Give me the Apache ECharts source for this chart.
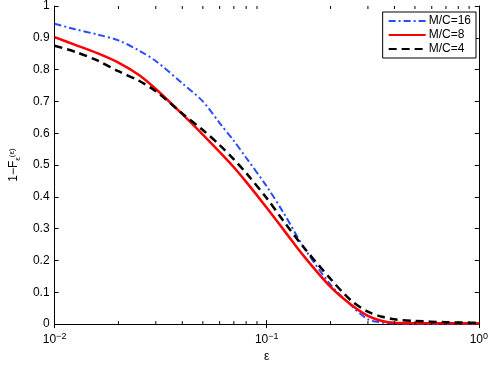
<!DOCTYPE html>
<html>
<head>
<meta charset="utf-8">
<script src="https://cdn.jsdelivr.net/npm/echarts@6/dist/echarts.min.js"></script>
<style>html,body{margin:0;padding:0;background:#fff;}#c{width:491px;height:368px;}</style>
</head>
<body>
<div id="c"></div>
<script>
const eps = [0.01, 0.0125, 0.016, 0.02, 0.025, 0.03, 0.04, 0.05, 0.06, 0.07, 0.08, 0.1, 0.12, 0.15, 0.2, 0.25, 0.3, 0.35, 0.4, 0.5, 0.7, 1];
const mc16 = [0.944, 0.927, 0.910, 0.892, 0.860, 0.827, 0.757, 0.700, 0.632, 0.576, 0.523, 0.433, 0.350, 0.240, 0.124, 0.059, 0.015, 0.005, 0.002, 0.001, 0.001, 0.001];
const mc8  = [0.902, 0.878, 0.851, 0.822, 0.783, 0.739, 0.660, 0.596, 0.541, 0.493, 0.447, 0.366, 0.297, 0.213, 0.117, 0.061, 0.026, 0.010, 0.004, 0.003, 0.003, 0.003];
const mc4  = [0.875, 0.856, 0.828, 0.795, 0.765, 0.732, 0.662, 0.610, 0.563, 0.518, 0.475, 0.396, 0.324, 0.240, 0.142, 0.074, 0.039, 0.023, 0.015, 0.010, 0.006, 0.004];
const seriesNames = ['M/C=16', 'M/C=8', 'M/C=4'];
const minorTicks = [0.02,0.03,0.04,0.05,0.06,0.07,0.08,0.09,0.2,0.3,0.4,0.5,0.6,0.7,0.8,0.9];

const font = 'Liberation Sans, Arial, sans-serif';
const pair = (ys) => eps.map((x, i) => [x, ys[i]]);

const chart = echarts.init(document.getElementById('c'));
chart.setOption({
  animation: false,
  backgroundColor: '#fff',
  grid: {left: 47, right: 10, top: 6, bottom: 39, show: false},
  legend: {
    orient: 'vertical', right: 15, top: 12,
    data: seriesNames,
    backgroundColor: '#fff', borderColor: '#000', borderWidth: 1, borderRadius: 0,
    padding: [3, 5, 3, 5], itemWidth: 37, itemHeight: 12, itemGap: 2,
    itemStyle: {opacity: 0},
    textStyle: {fontFamily: font, fontSize: 12, color: '#000', padding: [0, 0, 0, -2]}
  },
  xAxis: [{
    type: 'log', logBase: 10, min: 0.01, max: 1,
    name: 'ε', nameLocation: 'middle', nameGap: 24,
    nameTextStyle: {fontFamily: font, fontSize: 12, color: '#000'},
    axisLine: {show: true, lineStyle: {color: '#000', width: 1}},
    axisTick: {show: true, inside: true, length: 4, lineStyle: {color: '#000'}},
    splitLine: {show: false},
    axisLabel: {
      fontFamily: font, fontSize: 12, color: '#000', margin: 8,
      formatter: v => '10{sup|' + String(Math.round(Math.log10(v))).replace('-', '−') + '}',
      rich: {sup: {fontSize: 9, fontFamily: font, color: '#000', verticalAlign: 'top', padding: [0, 0, 7, 0]}}
    }
  }, {
    type: 'log', logBase: 10, min: 0.01, max: 1, position: 'top',
    axisLine: {show: true, lineStyle: {color: '#000', width: 1}},
    axisTick: {show: true, inside: true, length: 4, lineStyle: {color: '#000'}},
    axisLabel: {show: false}, splitLine: {show: false}
  }],
  yAxis: [{
    type: 'value', min: 0, max: 1, interval: 0.1,
    name: '1−F{sub|ε}{sm|(ε)}', nameLocation: 'middle', nameGap: 32, nameRotate: 90,
    nameTextStyle: {fontFamily: font, fontSize: 12, color: '#000',
      rich: {sub: {fontSize: 8, fontFamily: font, color: '#000', padding: [8, 0, 0, 0]},
             sm: {fontSize: 8, fontFamily: font, color: '#000', padding: [0, 0, 4, 0]}}},
    axisLine: {show: true, lineStyle: {color: '#000', width: 1}},
    axisTick: {show: true, inside: true, length: 4, lineStyle: {color: '#000'}},
    splitLine: {show: false},
    axisLabel: {fontFamily: font, fontSize: 12, color: '#000', margin: 5,
      formatter: v => (Math.round(v * 10) / 10).toString()}
  }, {
    type: 'value', min: 0, max: 1, interval: 0.1, position: 'right',
    axisLine: {show: true, lineStyle: {color: '#000', width: 1}},
    axisTick: {show: true, inside: true, length: 4, lineStyle: {color: '#000'}},
    axisLabel: {show: false}, splitLine: {show: false}
  }],
  series: [
    {
      name: seriesNames[0], type: 'line', data: pair(mc16), showSymbol: false, symbol: 'none',
      smooth: 0.3,
      color: '#2a4cff',
      lineStyle: {color: '#2a4cff', width: 2, type: [7, 3, 2, 3]}, z: 3
    },
    {
      name: seriesNames[1], type: 'line', data: pair(mc8), showSymbol: false, symbol: 'none',
      smooth: 0.3,
      color: '#ff0000',
      lineStyle: {color: '#ff0000', width: 2.5, type: 'solid'}, z: 4
    },
    {
      name: seriesNames[2], type: 'line', data: pair(mc4), showSymbol: false, symbol: 'none',
      smooth: 0.3,
      color: '#000000',
      lineStyle: {color: '#000000', width: 2.5, type: [8, 5]}, z: 5
    },
    {
      type: 'custom', silent: true, z: 6,
      data: minorTicks.map(v => [v, 0]),
      renderItem: (params, api) => {
        const b = api.coord([api.value(0), 0]);
        const t = api.coord([api.value(0), 1]);
        const st = {stroke: '#000', lineWidth: 1};
        return {type: 'group', children: [
          {type: 'line', shape: {x1: b[0], y1: b[1], x2: b[0], y2: b[1] - 3}, style: st},
          {type: 'line', shape: {x1: t[0], y1: t[1], x2: t[0], y2: t[1] + 3}, style: st}
        ]};
      }
    }
  ]
});
</script>
</body>
</html>
